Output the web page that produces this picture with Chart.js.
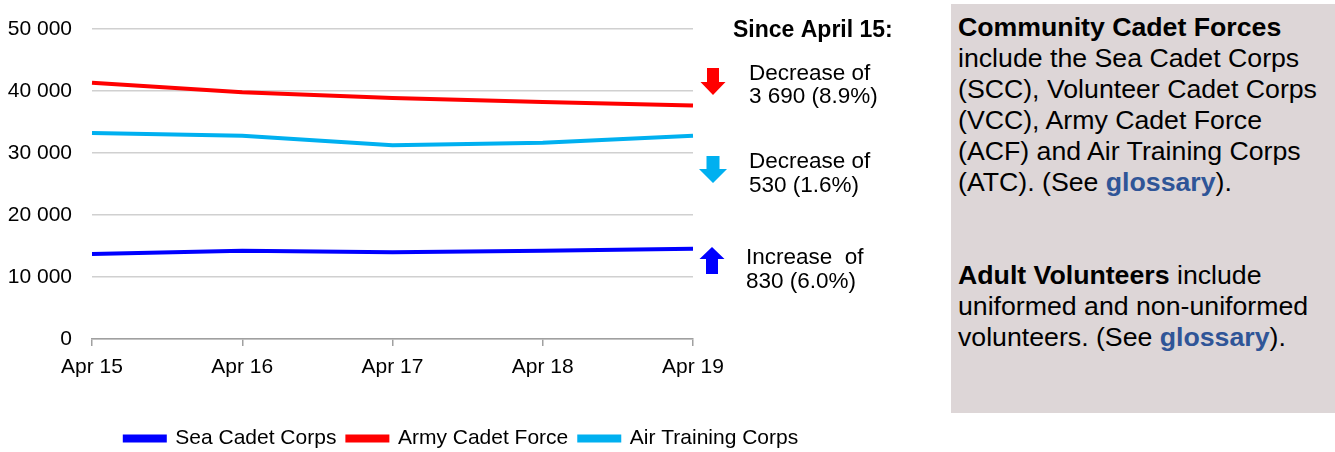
<!DOCTYPE html>
<html>
<head>
<meta charset="utf-8">
<script src="https://cdn.jsdelivr.net/npm/chart.js@4/dist/chart.umd.min.js"></script>
<style>
  html, body { margin: 0; padding: 0; background: #ffffff; }
  body { width: 1335px; height: 452px; position: relative; overflow: hidden; font-family: 'Liberation Sans', Arial, sans-serif; }
  #wrap { position: absolute; left: 0; top: 0; width: 923px; height: 452px; }
  #side { position: absolute; left: 951px; top: 4px; width: 384px; height: 409px; background: #ddd6d7;
          box-sizing: border-box; padding: 8px 0 0 7px; font-size: 26.7px; line-height: 31px; color: #000; white-space: nowrap; }
  #side b.g { color: #2f5597; }
</style>
</head>
<body>
<div id="wrap"><canvas id="c"></canvas></div>
<div id="side">
<b>Community Cadet Forces</b><br>
include the Sea Cadet Corps<br>
(SCC), Volunteer Cadet Corps<br>
(VCC), Army Cadet Force<br>
(ACF) and Air Training Corps<br>
(ATC). (See <b class="g">glossary</b>).<br>
<br>
<br>
<b>Adult Volunteers</b> include<br>
uniformed and non-uniformed<br>
volunteers. (See <b class="g">glossary</b>).
</div>
<script>
// ---- data ----
const categories = ['Apr 15', 'Apr 16', 'Apr 17', 'Apr 18', 'Apr 19'];
const seaCadetCorps = [13710, 14240, 13980, 14240, 14540];
const armyCadetForce = [41340, 39780, 38870, 38230, 37650];
const airTrainingCorps = [33230, 32800, 31240, 31670, 32780];
const seriesNames = ['Sea Cadet Corps', 'Army Cadet Force', 'Air Training Corps'];
const yTickValues = [0, 10000, 20000, 30000, 40000, 50000];
const noteHeading = 'Since April 15:';
const notes = [
  ['Decrease of', '3 690 (8.9%)'],
  ['Decrease of', '530 (1.6%)'],
  ['Increase  of', '830 (6.0%)']
];

const FONT = "'Liberation Sans', Arial, sans-serif";
const fmt = v => String(v).replace(/\B(?=(\d{3})+(?!\d))/g, ' ');

const notesPlugin = {
  id: 'notes',
  afterDraw(chart) {
    const ctx = chart.ctx;
    const r = chart.chartArea.right;
    ctx.save();
    ctx.fillStyle = '#000';
    ctx.textAlign = 'left';
    ctx.textBaseline = 'alphabetic';
    ctx.font = 'bold 23px ' + FONT;
    ctx.fillText(noteHeading, r + 40, 37);

    function arrow(cx, top, bottom, up, color, headW, shaftW, headL) {
      ctx.fillStyle = color;
      ctx.beginPath();
      if (!up) {
        ctx.moveTo(cx - shaftW / 2, top);
        ctx.lineTo(cx + shaftW / 2, top);
        ctx.lineTo(cx + shaftW / 2, bottom - headL);
        ctx.lineTo(cx + headW / 2, bottom - headL);
        ctx.lineTo(cx, bottom);
        ctx.lineTo(cx - headW / 2, bottom - headL);
        ctx.lineTo(cx - shaftW / 2, bottom - headL);
      } else {
        ctx.moveTo(cx - shaftW / 2, bottom);
        ctx.lineTo(cx + shaftW / 2, bottom);
        ctx.lineTo(cx + shaftW / 2, top + headL);
        ctx.lineTo(cx + headW / 2, top + headL);
        ctx.lineTo(cx, top);
        ctx.lineTo(cx - headW / 2, top + headL);
        ctx.lineTo(cx - shaftW / 2, top + headL);
      }
      ctx.closePath();
      ctx.fill();
    }
    arrow(r + 20, 68, 95, false, '#ff0000', 25, 12, 13);
    arrow(r + 20, 156, 183, false, '#00b0f0', 28, 13, 14);
    arrow(r + 19, 247, 274, true, '#0000ff', 25, 12, 12);

    ctx.fillStyle = '#000';
    ctx.font = '22.5px ' + FONT;
    ctx.fillText(notes[0][0], r + 56, 80);
    ctx.fillText(notes[0][1], r + 56, 103);
    ctx.fillText(notes[1][0], r + 56, 168);
    ctx.fillText(notes[1][1], r + 56, 192);
    ctx.fillText(notes[2][0], r + 53, 264);
    ctx.fillText(notes[2][1], r + 53, 288);
    ctx.restore();
  }
};

new Chart(document.getElementById('c'), {
  type: 'line',
  data: {
    labels: categories,
    datasets: [
      { label: seriesNames[0], data: seaCadetCorps, borderColor: '#0000ff', backgroundColor: '#0000ff' },
      { label: seriesNames[1], data: armyCadetForce, borderColor: '#ff0000', backgroundColor: '#ff0000' },
      { label: seriesNames[2], data: airTrainingCorps, borderColor: '#00b0f0', backgroundColor: '#00b0f0' }
    ]
  },
  options: {
    responsive: true,
    maintainAspectRatio: false,
    animation: false,
    devicePixelRatio: 1,
    layout: { padding: { top: 29, left: 0, right: 0, bottom: 0 } },
    elements: {
      line: { borderWidth: 4, tension: 0, borderCapStyle: 'butt' },
      point: { radius: 0, hoverRadius: 0 }
    },
    scales: {
      x: {
        type: 'category',
        offset: false,
        grid: { display: true, drawOnChartArea: false, drawTicks: true, tickLength: 7, color: '#a0a0a0', lineWidth: 1.5 },
        border: { display: true, color: '#a0a0a0', width: 1.5 },
        ticks: { color: '#000', font: { family: FONT, size: 21 }, padding: 9, maxRotation: 0, autoSkip: false },
        afterFit(s) { s.height = 78; }
      },
      y: {
        min: 0, max: 50000,
        afterBuildTicks(s) { s.ticks = yTickValues.map(v => ({ value: v })); },
        grid: { color: '#d0d0d0', lineWidth: 1.5, drawTicks: false },
        border: { display: false },
        ticks: { color: '#000', font: { family: FONT, size: 21 }, padding: 20, callback: v => fmt(v) },
        afterFit(s) { s.width = 92; s.paddingTop = 0; s.paddingBottom = 0; }
      },
      pad: {
        position: 'right',
        display: true,
        grid: { display: false },
        border: { display: false },
        ticks: { display: false },
        afterFit(s) { s.width = 230; s.paddingTop = 0; s.paddingBottom = 0; }
      }
    },
    plugins: {
      legend: {
        display: true,
        position: 'bottom',
        maxHeight: 35,
        labels: { boxWidth: 40, boxHeight: 4, padding: 11, color: '#000', font: { family: FONT, size: 21 } }
      },
      tooltip: { enabled: false }
    }
  },
  plugins: [notesPlugin]
});
</script>
</body>
</html>
